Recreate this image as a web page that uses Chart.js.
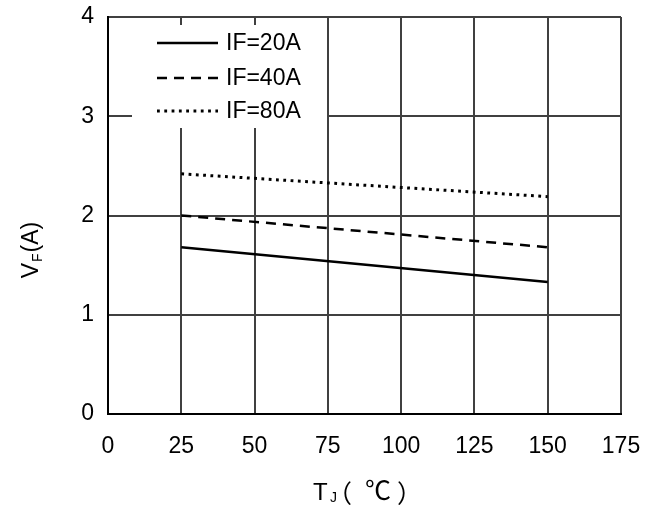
<!DOCTYPE html>
<html>
<head>
  <title>VF vs TJ</title>
  <script src="https://cdn.jsdelivr.net/npm/chart.js"></script>
  <style>
    html, body { margin: 0; padding: 0; background: #fff; }
    #wrap { width: 660px; height: 508px; }
  </style>
</head>
<body>
  <div id="wrap"><canvas id="vfChart" width="660" height="508"></canvas></div>

  <script>
    // values
    const temps = [25, 150];
    const vf20 = [1.68, 1.33];
    const vf40 = [2.00, 1.68];
    const vf80 = [2.42, 2.19];
    const seriesNames = ['IF=20A', 'IF=40A', 'IF=80A'];

    const FONT = "Arial, 'Liberation Sans', sans-serif";
    const pts = vals => temps.map((t, i) => ({ x: t, y: vals[i] }));

    // legend drawn inside the plot on a white box
    const boxLegend = {
      id: 'boxLegend',
      afterDatasetsDraw(chart) {
        const ctx = chart.ctx;
        ctx.save();
        ctx.fillStyle = '#fff';
        ctx.fillRect(132, 25, 195, 103);
        const rows = [43, 78, 111];
        chart.data.datasets.forEach((ds, i) => {
          ctx.beginPath();
          ctx.strokeStyle = '#000';
          ctx.lineWidth = ds.borderWidth;
          ctx.lineCap = ds.borderCapStyle || 'butt';
          ctx.setLineDash(ds.borderDash || []);
          ctx.moveTo(157, rows[i]);
          ctx.lineTo(218, rows[i]);
          ctx.stroke();
          ctx.setLineDash([]);
          ctx.fillStyle = '#000';
          ctx.font = '23px ' + FONT;
          ctx.textBaseline = 'middle';
          ctx.textAlign = 'left';
          ctx.fillText(ds.label, 226, rows[i] + 1);
        });
        ctx.restore();
      }
    };

    // put a piece of text so that its ink starts at inkLeft
    function putText(ctx, txt, font, inkLeft, base) {
      ctx.font = font;
      const m = ctx.measureText(txt);
      ctx.fillText(txt, inkLeft + m.actualBoundingBoxLeft, base);
    }

    // axis titles with subscripts
    const axisTitles = {
      id: 'axisTitles',
      afterDraw(chart) {
        const ctx = chart.ctx;
        ctx.save();
        ctx.fillStyle = '#000';
        ctx.textBaseline = 'alphabetic';
        ctx.textAlign = 'left';

        // x title: TJ（℃）
        const big = '24px ' + FONT, small = '14px ' + FONT;
        const cjk = "25px 'Noto Sans CJK SC', sans-serif";
        putText(ctx, 'T', big, 313, 500);
        putText(ctx, 'J', small, 330, 502);
        putText(ctx, '（', cjk, 344, 503);
        putText(ctx, '℃', "26px 'Noto Sans CJK SC', sans-serif", 366, 500);
        putText(ctx, '）', cjk, 398, 503);

        // y title: VF(A), rotated
        ctx.translate(38, 250);
        ctx.rotate(-Math.PI / 2);
        const bigY = '23px ' + FONT;
        ctx.font = bigY; const wV = ctx.measureText('V').width;
        ctx.font = small; const wF = ctx.measureText('F').width;
        ctx.font = bigY; const wA = ctx.measureText('(A)').width;
        let x = -(wV + wF + 2 + wA) / 2;
        ctx.font = bigY; ctx.fillText('V', x, 0); x += wV + 1;
        ctx.font = small; ctx.fillText('F', x, 4); x += wF + 1;
        ctx.font = bigY; ctx.fillText('(A)', x, 0);
        ctx.restore();
      }
    };

    const ctx = document.getElementById('vfChart').getContext('2d');
    new Chart(ctx, {
      type: 'line',
      data: {
        datasets: [
          { label: seriesNames[0], data: pts(vf20), borderColor: '#000', borderWidth: 2.5, pointRadius: 0, fill: false },
          { label: seriesNames[1], data: pts(vf40), borderColor: '#000', borderWidth: 2.5, borderDash: [10, 7], pointRadius: 0, fill: false },
          { label: seriesNames[2], data: pts(vf80), borderColor: '#000', borderWidth: 3, borderDash: [2.8, 4.5], pointRadius: 0, fill: false }
        ]
      },
      options: {
        responsive: false,
        animation: false,
        layout: { padding: { top: 17, right: 39, left: 0, bottom: 0 } },
        plugins: { legend: { display: false }, tooltip: { enabled: false } },
        scales: {
          x: {
            type: 'linear', min: 0, max: 175,
            afterFit: s => { s.height = 94; s.paddingLeft = 0; s.paddingRight = 0; },
            ticks: { stepSize: 25, color: '#000', font: { family: FONT, size: 23 }, padding: 19, maxRotation: 0 },
            grid: { color: '#404040', lineWidth: 2, drawTicks: false },
            border: { color: '#000', width: 2 }
          },
          y: {
            min: 0, max: 4,
            afterFit: s => { s.width = 108; s.paddingTop = 0; s.paddingBottom = 0; },
            ticks: { stepSize: 1, color: '#000', font: { family: FONT, size: 23 }, padding: 14 },
            grid: { color: '#404040', lineWidth: 2, drawTicks: false },
            border: { color: '#000', width: 2 }
          }
        }
      },
      plugins: [boxLegend, axisTitles]
    });
  </script>
</body>
</html>
